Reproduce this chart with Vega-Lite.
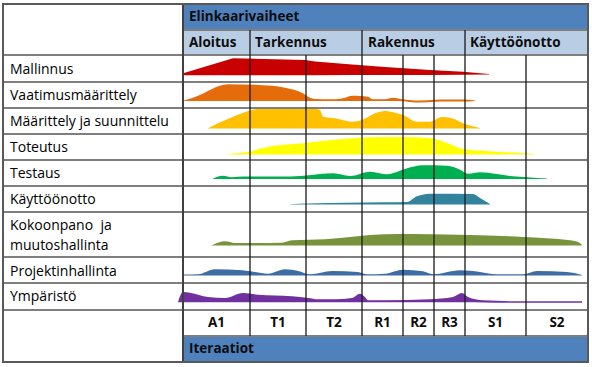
{
  "$schema": "https://vega.github.io/schema/vega-lite/v6.json",
  "width": 592,
  "height": 367,
  "padding": 0,
  "autosize": {"type": "fit", "contains": "padding"},
  "background": "white",
  "view": {"stroke": null},
  "config": {"text": {"font": "Open Sans"}},
  "datasets": {
    "cells": [
      {"part": "dark", "t1": 0, "t2": 405, "y1": 4, "y2": 30},
      {"part": "light", "t1": 0, "t2": 405, "y1": 30, "y2": 55},
      {"part": "dark", "t1": 0, "t2": 405, "y1": 336, "y2": 362}
    ],
    "hlines": [
      {"t1": -180, "t2": 405, "y": 55},
      {"t1": -180, "t2": 405, "y": 82},
      {"t1": -180, "t2": 405, "y": 108},
      {"t1": -180, "t2": 405, "y": 134},
      {"t1": -180, "t2": 405, "y": 160},
      {"t1": -180, "t2": 405, "y": 186},
      {"t1": -180, "t2": 405, "y": 212},
      {"t1": -180, "t2": 405, "y": 257},
      {"t1": -180, "t2": 405, "y": 283},
      {"t1": -180, "t2": 405, "y": 310},
      {"t1": 0, "t2": 405, "y": 30},
      {"t1": 0, "t2": 405, "y": 336}
    ],
    "vlines": [
      {"kind": "phase", "t": 67, "y1": 30, "y2": 336},
      {"kind": "phase", "t": 179, "y1": 30, "y2": 336},
      {"kind": "phase", "t": 282, "y1": 30, "y2": 336},
      {"kind": "iter", "t": 123, "y1": 55, "y2": 336},
      {"kind": "iter", "t": 220, "y1": 55, "y2": 336},
      {"kind": "iter", "t": 251, "y1": 55, "y2": 336},
      {"kind": "iter", "t": 343, "y1": 55, "y2": 336},
      {"kind": "major", "t": 0, "y1": 4, "y2": 362}
    ],
    "frame": [{"t1": -180, "t2": 405, "y1": 4, "y2": 362}],
    "texts": [
      {"kind": "row", "t": -173, "y": 74, "label": "Mallinnus"},
      {"kind": "row", "t": -173, "y": 99.5, "label": "Vaatimusmäärittely"},
      {"kind": "row", "t": -173, "y": 125.5, "label": "Määrittely ja suunnittelu"},
      {"kind": "row", "t": -173, "y": 151.5, "label": "Toteutus"},
      {"kind": "row", "t": -173, "y": 177.5, "label": "Testaus"},
      {"kind": "row", "t": -173, "y": 203.5, "label": "Käyttöönotto"},
      {"kind": "row", "t": -173, "y": 230, "label": "Kokoonpano \u00a0ja"},
      {"kind": "row", "t": -173, "y": 250, "label": "muutoshallinta"},
      {"kind": "row", "t": -173, "y": 275.5, "label": "Projektinhallinta"},
      {"kind": "row", "t": -173, "y": 301, "label": "Ympäristö"},
      {"kind": "head", "t": 6, "y": 21, "label": "Elinkaarivaiheet"},
      {"kind": "head", "t": 6, "y": 46.5, "label": "Aloitus"},
      {"kind": "head", "t": 72, "y": 46.5, "label": "Tarkennus"},
      {"kind": "head", "t": 185, "y": 46.5, "label": "Rakennus"},
      {"kind": "head", "t": 287, "y": 46.5, "label": "Käyttöönotto"},
      {"kind": "head", "t": 6, "y": 352.5, "label": "Iteraatiot"},
      {"kind": "iter", "t": 33.5, "y": 326.5, "label": "A1"},
      {"kind": "iter", "t": 95, "y": 326.5, "label": "T1"},
      {"kind": "iter", "t": 151, "y": 326.5, "label": "T2"},
      {"kind": "iter", "t": 199.5, "y": 326.5, "label": "R1"},
      {"kind": "iter", "t": 235.5, "y": 326.5, "label": "R2"},
      {"kind": "iter", "t": 266.5, "y": 326.5, "label": "R3"},
      {"kind": "iter", "t": 312.5, "y": 326.5, "label": "S1"},
      {"kind": "iter", "t": 374, "y": 326.5, "label": "S2"}
    ],
    "humps": [
      {"s": "Mallinnus", "t": -1, "top": 75, "base": 75.3},
      {"s": "Mallinnus", "t": 1, "top": 73, "base": 75.3},
      {"s": "Mallinnus", "t": 50, "top": 58.3, "base": 75.3},
      {"s": "Mallinnus", "t": 122, "top": 60, "base": 75.2},
      {"s": "Mallinnus", "t": 132, "top": 61.5, "base": 75.2},
      {"s": "Mallinnus", "t": 169, "top": 64.5, "base": 75},
      {"s": "Mallinnus", "t": 202, "top": 67, "base": 75},
      {"s": "Mallinnus", "t": 247, "top": 70, "base": 75},
      {"s": "Mallinnus", "t": 280, "top": 71.7, "base": 74.8},
      {"s": "Mallinnus", "t": 306, "top": 74, "base": 74.6},

      {"s": "Vaatimusmäärittely", "t": 0, "top": 100.8, "base": 101},
      {"s": "Vaatimusmäärittely", "t": 12, "top": 97, "base": 101},
      {"s": "Vaatimusmäärittely", "t": 45, "top": 84.3, "base": 101},
      {"s": "Vaatimusmäärittely", "t": 89, "top": 85.7, "base": 101},
      {"s": "Vaatimusmäärittely", "t": 102, "top": 87.7, "base": 101},
      {"s": "Vaatimusmäärittely", "t": 120, "top": 93.3, "base": 101},
      {"s": "Vaatimusmäärittely", "t": 125, "top": 96.7, "base": 101},
      {"s": "Vaatimusmäärittely", "t": 132, "top": 99, "base": 101},
      {"s": "Vaatimusmäärittely", "t": 149, "top": 99.3, "base": 101},
      {"s": "Vaatimusmäärittely", "t": 162, "top": 97.7, "base": 101},
      {"s": "Vaatimusmäärittely", "t": 169, "top": 95.7, "base": 101},
      {"s": "Vaatimusmäärittely", "t": 177, "top": 96, "base": 101},
      {"s": "Vaatimusmäärittely", "t": 185, "top": 96.7, "base": 101},
      {"s": "Vaatimusmäärittely", "t": 190, "top": 99.3, "base": 101},
      {"s": "Vaatimusmäärittely", "t": 202, "top": 99.3, "base": 101},
      {"s": "Vaatimusmäärittely", "t": 210, "top": 97.7, "base": 101},
      {"s": "Vaatimusmäärittely", "t": 220, "top": 99.3, "base": 101.3},
      {"s": "Vaatimusmäärittely", "t": 232, "top": 100.5, "base": 102.5},
      {"s": "Vaatimusmäärittely", "t": 245, "top": 100.2, "base": 102.3},
      {"s": "Vaatimusmäärittely", "t": 258, "top": 99.6, "base": 101.5},
      {"s": "Vaatimusmäärittely", "t": 280, "top": 99.6, "base": 101.5},
      {"s": "Vaatimusmäärittely", "t": 292, "top": 100.4, "base": 100.9},

      {"s": "Määrittely ja suunnittelu", "t": 25, "top": 128.2, "base": 128.5},
      {"s": "Määrittely ja suunnittelu", "t": 35, "top": 123.3, "base": 128.5},
      {"s": "Määrittely ja suunnittelu", "t": 50, "top": 116.7, "base": 128.5},
      {"s": "Määrittely ja suunnittelu", "t": 69, "top": 110, "base": 128.5},
      {"s": "Määrittely ja suunnittelu", "t": 82, "top": 107.7, "base": 128.5},
      {"s": "Määrittely ja suunnittelu", "t": 125, "top": 107.7, "base": 128.5},
      {"s": "Määrittely ja suunnittelu", "t": 137, "top": 110, "base": 128.5},
      {"s": "Määrittely ja suunnittelu", "t": 140, "top": 116.7, "base": 128.5},
      {"s": "Määrittely ja suunnittelu", "t": 152, "top": 118.3, "base": 128.5},
      {"s": "Määrittely ja suunnittelu", "t": 169, "top": 121.7, "base": 128.5},
      {"s": "Määrittely ja suunnittelu", "t": 179, "top": 120, "base": 128.5},
      {"s": "Määrittely ja suunnittelu", "t": 192, "top": 113.3, "base": 128.5},
      {"s": "Määrittely ja suunnittelu", "t": 202, "top": 111, "base": 128.5},
      {"s": "Määrittely ja suunnittelu", "t": 210, "top": 112.3, "base": 128.5},
      {"s": "Määrittely ja suunnittelu", "t": 220, "top": 115, "base": 128.5},
      {"s": "Määrittely ja suunnittelu", "t": 234, "top": 121.7, "base": 128.5},
      {"s": "Määrittely ja suunnittelu", "t": 247, "top": 121.7, "base": 128.5},
      {"s": "Määrittely ja suunnittelu", "t": 259, "top": 117, "base": 128.5},
      {"s": "Määrittely ja suunnittelu", "t": 269, "top": 118.3, "base": 128.5},
      {"s": "Määrittely ja suunnittelu", "t": 280, "top": 123.3, "base": 128.5},
      {"s": "Määrittely ja suunnittelu", "t": 297, "top": 128, "base": 128.5},

      {"s": "Toteutus", "t": 45, "top": 154, "base": 154.5},
      {"s": "Toteutus", "t": 69, "top": 151.3, "base": 154.5},
      {"s": "Toteutus", "t": 79, "top": 148, "base": 154.5},
      {"s": "Toteutus", "t": 122, "top": 143, "base": 154.5},
      {"s": "Toteutus", "t": 159, "top": 139, "base": 154.5},
      {"s": "Toteutus", "t": 202, "top": 137, "base": 154.5},
      {"s": "Toteutus", "t": 220, "top": 137, "base": 154.5},
      {"s": "Toteutus", "t": 247, "top": 138, "base": 154.5},
      {"s": "Toteutus", "t": 264, "top": 143, "base": 154.5},
      {"s": "Toteutus", "t": 280, "top": 149, "base": 154.5},
      {"s": "Toteutus", "t": 307, "top": 151.3, "base": 154.5},
      {"s": "Toteutus", "t": 344, "top": 153.5, "base": 154.5},
      {"s": "Toteutus", "t": 352, "top": 154.2, "base": 154.5},

      {"s": "Testaus", "t": 30, "top": 178.5, "base": 179},
      {"s": "Testaus", "t": 40, "top": 175.7, "base": 179},
      {"s": "Testaus", "t": 49, "top": 177.3, "base": 179},
      {"s": "Testaus", "t": 60, "top": 176.6, "base": 179},
      {"s": "Testaus", "t": 107, "top": 176.6, "base": 179},
      {"s": "Testaus", "t": 150, "top": 173.3, "base": 179},
      {"s": "Testaus", "t": 167, "top": 176, "base": 179},
      {"s": "Testaus", "t": 187, "top": 171.7, "base": 179},
      {"s": "Testaus", "t": 204, "top": 174.3, "base": 179},
      {"s": "Testaus", "t": 217, "top": 170.7, "base": 179},
      {"s": "Testaus", "t": 222, "top": 169, "base": 179},
      {"s": "Testaus", "t": 240, "top": 165.3, "base": 179},
      {"s": "Testaus", "t": 264, "top": 165.7, "base": 179},
      {"s": "Testaus", "t": 277, "top": 169.7, "base": 179},
      {"s": "Testaus", "t": 285, "top": 173.7, "base": 179},
      {"s": "Testaus", "t": 297, "top": 172.3, "base": 179},
      {"s": "Testaus", "t": 314, "top": 174, "base": 179},
      {"s": "Testaus", "t": 330, "top": 176.3, "base": 179},
      {"s": "Testaus", "t": 344, "top": 177.3, "base": 179},
      {"s": "Testaus", "t": 364, "top": 178.5, "base": 179},

      {"s": "Käyttöönotto", "t": 107, "top": 204.2, "base": 204.5},
      {"s": "Käyttöönotto", "t": 125, "top": 203.5, "base": 204.5},
      {"s": "Käyttöönotto", "t": 202, "top": 202.3, "base": 204.5},
      {"s": "Käyttöönotto", "t": 224, "top": 202, "base": 204.5},
      {"s": "Käyttöönotto", "t": 234, "top": 196.3, "base": 204.5},
      {"s": "Käyttöönotto", "t": 247, "top": 193.7, "base": 204.5},
      {"s": "Käyttöönotto", "t": 290, "top": 194, "base": 204.5},
      {"s": "Käyttöönotto", "t": 297, "top": 198, "base": 204.5},
      {"s": "Käyttöönotto", "t": 307, "top": 204, "base": 204.5},

      {"s": "Kokoonpano ja muutoshallinta", "t": 29, "top": 245.2, "base": 245.5},
      {"s": "Kokoonpano ja muutoshallinta", "t": 42, "top": 241.3, "base": 245.5},
      {"s": "Kokoonpano ja muutoshallinta", "t": 52, "top": 243, "base": 245.5},
      {"s": "Kokoonpano ja muutoshallinta", "t": 99, "top": 242.7, "base": 245.5},
      {"s": "Kokoonpano ja muutoshallinta", "t": 109, "top": 240.3, "base": 245.5},
      {"s": "Kokoonpano ja muutoshallinta", "t": 142, "top": 239.3, "base": 245.5},
      {"s": "Kokoonpano ja muutoshallinta", "t": 202, "top": 234.3, "base": 245.5},
      {"s": "Kokoonpano ja muutoshallinta", "t": 230, "top": 234, "base": 245.5},
      {"s": "Kokoonpano ja muutoshallinta", "t": 297, "top": 235.3, "base": 245.5},
      {"s": "Kokoonpano ja muutoshallinta", "t": 340, "top": 237, "base": 245.5},
      {"s": "Kokoonpano ja muutoshallinta", "t": 387, "top": 240.3, "base": 245.5},
      {"s": "Kokoonpano ja muutoshallinta", "t": 396, "top": 242.5, "base": 245.5},
      {"s": "Kokoonpano ja muutoshallinta", "t": 399, "top": 245, "base": 245.5},

      {"s": "Projektinhallinta", "t": 0, "top": 274.5, "base": 275.5},
      {"s": "Projektinhallinta", "t": 15, "top": 274.3, "base": 275.5},
      {"s": "Projektinhallinta", "t": 32, "top": 269.3, "base": 275.5},
      {"s": "Projektinhallinta", "t": 59, "top": 270.3, "base": 275.5},
      {"s": "Projektinhallinta", "t": 72, "top": 272, "base": 275.5},
      {"s": "Projektinhallinta", "t": 85, "top": 273.7, "base": 275.5},
      {"s": "Projektinhallinta", "t": 102, "top": 269.3, "base": 275.5},
      {"s": "Projektinhallinta", "t": 115, "top": 271, "base": 275.5},
      {"s": "Projektinhallinta", "t": 127, "top": 274.3, "base": 275.5},
      {"s": "Projektinhallinta", "t": 149, "top": 271, "base": 275.5},
      {"s": "Projektinhallinta", "t": 175, "top": 272, "base": 275.5},
      {"s": "Projektinhallinta", "t": 184, "top": 274.3, "base": 275.5},
      {"s": "Projektinhallinta", "t": 202, "top": 273.7, "base": 275.5},
      {"s": "Projektinhallinta", "t": 220, "top": 269.7, "base": 275.5},
      {"s": "Projektinhallinta", "t": 240, "top": 271.3, "base": 275.5},
      {"s": "Projektinhallinta", "t": 250, "top": 274.3, "base": 275.5},
      {"s": "Projektinhallinta", "t": 277, "top": 270.3, "base": 275.5},
      {"s": "Projektinhallinta", "t": 297, "top": 272, "base": 275.5},
      {"s": "Projektinhallinta", "t": 314, "top": 274.3, "base": 275.5},
      {"s": "Projektinhallinta", "t": 340, "top": 274.3, "base": 275.5},
      {"s": "Projektinhallinta", "t": 354, "top": 271, "base": 275.5},
      {"s": "Projektinhallinta", "t": 384, "top": 272, "base": 275.5},
      {"s": "Projektinhallinta", "t": 399, "top": 275, "base": 275.5},

      {"s": "Ympäristö", "t": -5, "top": 302, "base": 302.3},
      {"s": "Ympäristö", "t": 0, "top": 292, "base": 302.3},
      {"s": "Ympäristö", "t": 7, "top": 292.7, "base": 302.3},
      {"s": "Ympäristö", "t": 25, "top": 297, "base": 302.3},
      {"s": "Ympäristö", "t": 42, "top": 298, "base": 302.3},
      {"s": "Ympäristö", "t": 60, "top": 293, "base": 302.3},
      {"s": "Ympäristö", "t": 75, "top": 294.7, "base": 302.3},
      {"s": "Ympäristö", "t": 109, "top": 296.3, "base": 302.3},
      {"s": "Ympäristö", "t": 125, "top": 298, "base": 302.3},
      {"s": "Ympäristö", "t": 135, "top": 299.3, "base": 302.3},
      {"s": "Ympäristö", "t": 152, "top": 299.3, "base": 302.3},
      {"s": "Ympäristö", "t": 169, "top": 298, "base": 302.3},
      {"s": "Ympäristö", "t": 177, "top": 293.7, "base": 302.3},
      {"s": "Ympäristö", "t": 182, "top": 297, "base": 302.3},
      {"s": "Ympäristö", "t": 185, "top": 300.3, "base": 302.3},
      {"s": "Ympäristö", "t": 202, "top": 300.3, "base": 302.3},
      {"s": "Ympäristö", "t": 247, "top": 299.3, "base": 302.3},
      {"s": "Ympäristö", "t": 270, "top": 297, "base": 302.3},
      {"s": "Ympäristö", "t": 279, "top": 293, "base": 302.3},
      {"s": "Ympäristö", "t": 285, "top": 297, "base": 302.3},
      {"s": "Ympäristö", "t": 300, "top": 300.3, "base": 302.5},
      {"s": "Ympäristö", "t": 330, "top": 301.2, "base": 302.7},
      {"s": "Ympäristö", "t": 399, "top": 301.3, "base": 302.7}
    ]
  },
  "encoding": {
    "x": {"field": "t", "type": "quantitative", "scale": {"domain": [-183, 409], "nice": false, "zero": false}, "axis": null}
  },
  "layer": [
    {
      "data": {"name": "cells"},
      "mark": {"type": "rect"},
      "encoding": {
        "x": {"field": "t1", "type": "quantitative", "scale": {"domain": [-183, 409], "nice": false, "zero": false}, "axis": null},
        "x2": {"field": "t2"},
        "y": {"field": "y1", "type": "quantitative", "scale": {"domain": [0, 367], "nice": false, "zero": false, "reverse": true}, "axis": null},
        "y2": {"field": "y2"},
        "color": {"field": "part", "type": "nominal", "scale": {"domain": ["dark", "light"], "range": ["#4F81BD", "#B9CDE5"]}, "legend": null}
      }
    },
    {
      "data": {"name": "humps"},
      "transform": [{"filter": "datum.s !== 'Mallinnus'"}],
      "mark": {"type": "area", "interpolate": "monotone"},
      "encoding": {
        "x": {"field": "t", "type": "quantitative"},
        "y": {"field": "top", "type": "quantitative", "scale": {"domain": [0, 367], "nice": false, "zero": false, "reverse": true}, "axis": null},
        "y2": {"field": "base"},
        "color": {"field": "s", "type": "nominal", "scale": {"domain": ["Mallinnus", "Vaatimusmäärittely", "Määrittely ja suunnittelu", "Toteutus", "Testaus", "Käyttöönotto", "Kokoonpano ja muutoshallinta", "Projektinhallinta", "Ympäristö"], "range": ["#C80000", "#E46C0A", "#FFC000", "#FFFF00", "#00B050", "#31849B", "#77933C", "#3E6CA5", "#7030A0"]}, "legend": null},
        "detail": {"field": "s", "type": "nominal"}
      }
    },
    {
      "data": {"name": "humps"},
      "transform": [{"filter": "datum.s === 'Mallinnus'"}],
      "mark": {"type": "area", "interpolate": "linear", "color": "#C80000"},
      "encoding": {
        "x": {"field": "t", "type": "quantitative"},
        "y": {"field": "top", "type": "quantitative", "scale": {"domain": [0, 367], "nice": false, "zero": false, "reverse": true}, "axis": null},
        "y2": {"field": "base"}
      }
    },
    {
      "data": {"name": "hlines"},
      "mark": {"type": "rule", "stroke": "#7F7F7F", "strokeWidth": 2},
      "encoding": {
        "x": {"field": "t1", "type": "quantitative"},
        "x2": {"field": "t2"},
        "y": {"field": "y", "type": "quantitative", "scale": {"domain": [0, 367], "nice": false, "zero": false, "reverse": true}, "axis": null}
      }
    },
    {
      "data": {"name": "vlines"},
      "transform": [{"filter": "datum.kind !== 'major'"}],
      "mark": {"type": "rule", "stroke": "#1A1A1A", "strokeWidth": 1.3},
      "encoding": {
        "x": {"field": "t", "type": "quantitative"},
        "y": {"field": "y1", "type": "quantitative", "scale": {"domain": [0, 367], "nice": false, "zero": false, "reverse": true}, "axis": null},
        "y2": {"field": "y2"}
      }
    },
    {
      "data": {"name": "vlines"},
      "transform": [{"filter": "datum.kind === 'major'"}],
      "mark": {"type": "rule", "stroke": "#404040", "strokeWidth": 2},
      "encoding": {
        "x": {"field": "t", "type": "quantitative"},
        "y": {"field": "y1", "type": "quantitative", "scale": {"domain": [0, 367], "nice": false, "zero": false, "reverse": true}, "axis": null},
        "y2": {"field": "y2"}
      }
    },
    {
      "data": {"name": "frame"},
      "mark": {"type": "rect", "fill": null, "fillOpacity": 0, "stroke": "#595959", "strokeWidth": 2},
      "encoding": {
        "x": {"field": "t1", "type": "quantitative"},
        "x2": {"field": "t2"},
        "y": {"field": "y1", "type": "quantitative", "scale": {"domain": [0, 367], "nice": false, "zero": false, "reverse": true}, "axis": null},
        "y2": {"field": "y2"}
      }
    },
    {
      "data": {"name": "texts"},
      "transform": [{"filter": "datum.kind === 'row'"}],
      "mark": {"type": "text", "align": "left", "baseline": "alphabetic", "fontSize": 14, "font": "Open Sans", "color": "#000000"},
      "encoding": {
        "x": {"field": "t", "type": "quantitative"},
        "y": {"field": "y", "type": "quantitative", "scale": {"domain": [0, 367], "nice": false, "zero": false, "reverse": true}, "axis": null},
        "text": {"field": "label"}
      }
    },
    {
      "data": {"name": "texts"},
      "transform": [{"filter": "datum.kind === 'head'"}],
      "mark": {"type": "text", "align": "left", "baseline": "alphabetic", "fontSize": 13.5, "fontWeight": "bold", "font": "Open Sans", "color": "#0D0D0D"},
      "encoding": {
        "x": {"field": "t", "type": "quantitative"},
        "y": {"field": "y", "type": "quantitative", "scale": {"domain": [0, 367], "nice": false, "zero": false, "reverse": true}, "axis": null},
        "text": {"field": "label"}
      }
    },
    {
      "data": {"name": "texts"},
      "transform": [{"filter": "datum.kind === 'iter'"}],
      "mark": {"type": "text", "align": "center", "baseline": "alphabetic", "fontSize": 13.5, "fontWeight": "bold", "font": "Open Sans", "color": "#0D0D0D"},
      "encoding": {
        "x": {"field": "t", "type": "quantitative"},
        "y": {"field": "y", "type": "quantitative", "scale": {"domain": [0, 367], "nice": false, "zero": false, "reverse": true}, "axis": null},
        "text": {"field": "label"}
      }
    }
  ],
  "resolve": {"scale": {"color": "independent"}}
}
